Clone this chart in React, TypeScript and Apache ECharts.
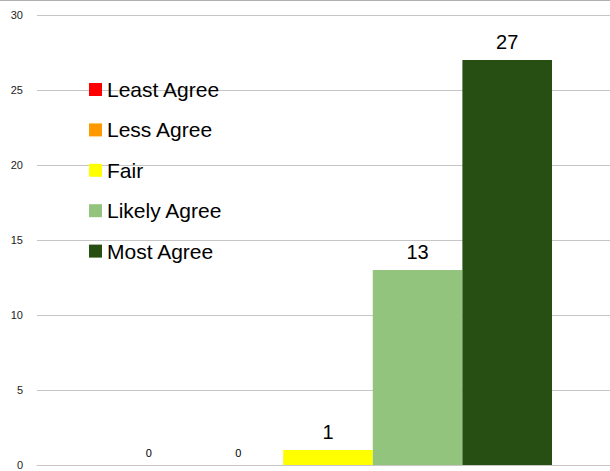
import React, { useEffect, useRef } from "react";
import * as echarts from "echarts";

const categories = [""];
const seriesNames = ["Least Agree", "Less Agree", "Fair", "Likely Agree", "Most Agree"];
const seriesValues = [0, 0, 1, 13, 27];
const seriesColors = ["#FF0000", "#FF9900", "#FFFF00", "#93C47D", "#274E13"];
const yTicks = { min: 0, max: 30, interval: 5 };

const FONT = "'Liberation Sans', Arial, sans-serif";

export default function App() {
  const ref = useRef<HTMLDivElement>(null);
  useEffect(() => {
    if (!ref.current) return;
    const chart = echarts.init(ref.current, null, { renderer: "svg" });
    const series = seriesNames.map((name, i) => ({
      name,
      type: "bar",
      data: [seriesValues[i]],
      barWidth: 89.6,
      barGap: "0%",
      itemStyle: { color: seriesColors[i] },
      label: {
        show: true,
        position: "top",
        distance: seriesValues[i] === 0 ? 7 : 8,
        fontSize: seriesValues[i] === 0 ? 11 : 20,
        color: "#000000",
        fontFamily: FONT,
      },
    }));
    chart.setOption({
      animation: false,
      textStyle: { fontFamily: FONT, color: "#000000" },
      grid: { left: 37, top: 15, width: 582, height: 450, containLabel: false },
      legend: {
        orient: "vertical",
        left: 89,
        top: 79,
        padding: 0,
        itemWidth: 13,
        itemHeight: 13,
        itemGap: 19.4,
        itemTextGap: 9,
        icon: "rect",
        textStyle: { fontSize: 21, lineHeight: 20, color: "#000000", fontFamily: FONT },
        data: seriesNames,
      },
      xAxis: {
        type: "category",
        data: categories,
        axisTick: { show: false },
        axisLabel: { show: false },
        axisLine: { lineStyle: { color: "#c6c6c6", width: 1 } },
      },
      yAxis: {
        type: "value",
        min: yTicks.min,
        max: yTicks.max,
        interval: yTicks.interval,
        axisLine: { show: false },
        axisTick: { show: false },
        axisLabel: { fontSize: 11, color: "#222222", margin: 14, fontFamily: FONT },
        splitLine: { lineStyle: { color: "#c6c6c6", width: 1 } },
      },
      graphic: [
        {
          type: "line",
          shape: { x1: 0, y1: 0.5, x2: 620, y2: 0.5 },
          style: { stroke: "#b0b0b0", lineWidth: 1 },
        },
      ],
      series,
    });
    return () => chart.dispose();
  }, []);
  return (
    <div
      style={{ position: "fixed", left: 0, top: 0, width: 610, height: 471, overflow: "hidden", background: "#fff" }}
    >
      <div ref={ref} style={{ width: 620, height: 471 }} />
    </div>
  );
}
